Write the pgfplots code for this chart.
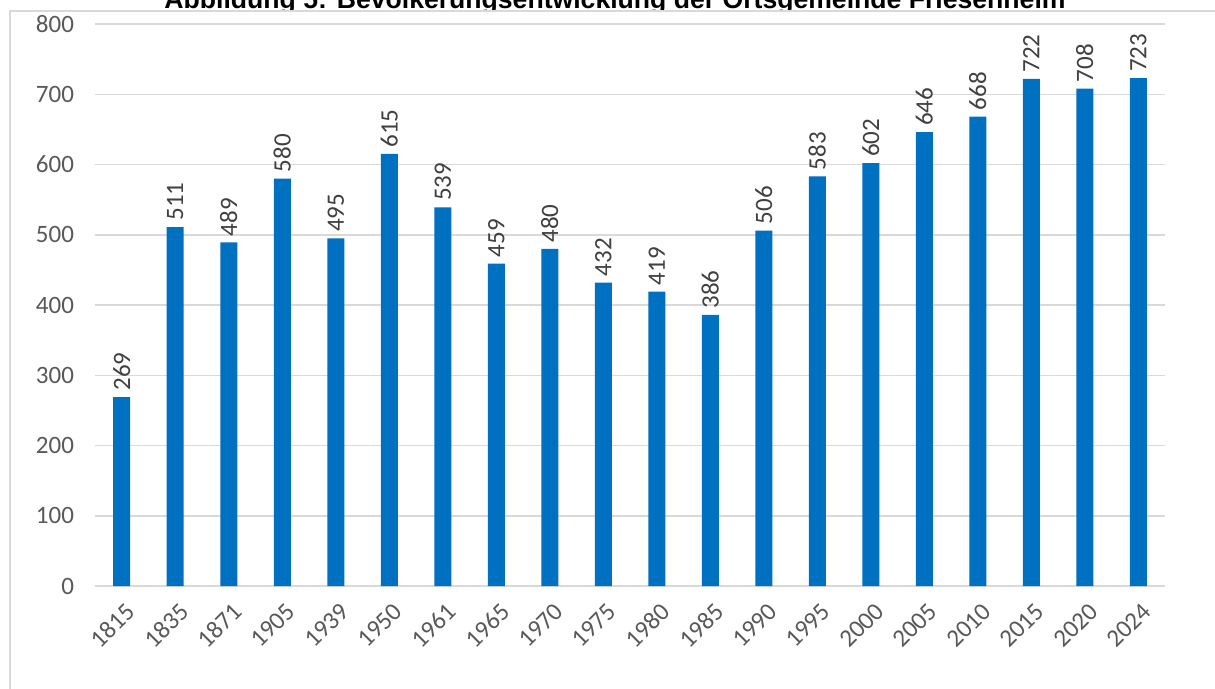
\documentclass[border=0pt]{standalone}
\usepackage{pgfplots}
\pgfplotsset{compat=1.18}
\usepackage{fontspec}
\setmainfont{Carlito}
\newfontfamily\titlefont{Liberation Sans}
\definecolor{barblue}{HTML}{0070C0}
\definecolor{gridgray}{HTML}{D9D9D9}
\definecolor{ticktext}{HTML}{595959}
\definecolor{labeltext}{HTML}{404040}
\begin{document}
\begin{tikzpicture}
\useasboundingbox (0,0) rectangle (607.5pt,-344.5pt);
\node[anchor=base, inner sep=0pt, font=\titlefont\bfseries\fontsize{13.3}{15}\selectfont] at (307.5pt,-4.5pt) {Abbildung 5: Bevölkerungsentwicklung der Ortsgemeinde Friesenheim};
\fill[white] (5pt,-5.5pt) rectangle (700pt,-400pt);
\draw[gridgray, line width=0.75pt] (5pt,-400pt) -- (5pt,-5.5pt) -- (700pt,-5.5pt);
\begin{axis}[
  at={(47.5pt,-293pt)}, anchor=south west,
  scale only axis, width=535pt, height=281pt,
  xmin=-0.5, xmax=19.5, ymin=0, ymax=800,
  ytick={0,100,...,800},
  xtick=data,
  xticklabels={1815,1835,1871,1905,1939,1950,1961,1965,1970,1975,1980,1985,1990,1995,2000,2005,2010,2015,2020,2024},
  axis x line*=bottom, axis y line*=left,
  y axis line style={draw=none},
  x axis line style={gridgray, line width=1pt, -},
  major tick length=0pt,
  ymajorgrids,
  grid style={gridgray, line width=0.75pt},
  /pgf/number format/assume math mode=true,
  ticklabel style={font=\fontsize{12.5}{14}\selectfont, color=ticktext},
  yticklabel style={xshift=-7pt},
  xticklabel style={rotate=45, anchor=north east, xshift=-1pt, yshift=-3pt},
  ybar, bar width=8.5pt,
  nodes near coords,
  every node near coord/.append style={rotate=90, anchor=west, font=\fontsize{12.5}{14}\selectfont, color=labeltext, inner sep=3pt},
  clip=false,
]
\addplot[fill=barblue, draw=none] coordinates {
(0,269) (1,511) (2,489) (3,580) (4,495) (5,615) (6,539) (7,459) (8,480) (9,432)
(10,419) (11,386) (12,506) (13,583) (14,602) (15,646) (16,668) (17,722) (18,708) (19,723)};
\end{axis}
\end{tikzpicture}
\end{document}
